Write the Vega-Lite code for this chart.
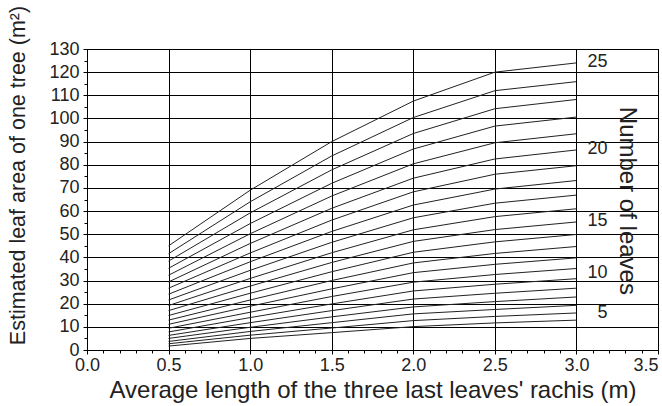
{
  "$schema": "https://vega.github.io/schema/vega-lite/v6.json",
  "width": 571,
  "height": 301,
  "autosize": {"type": "none"},
  "padding": {"left": 87, "top": 49, "right": 4, "bottom": 56},
  "background": "white",
  "config": {
    "view": {"stroke": "black", "strokeWidth": 1},
    "font": "Liberation Sans",
    "axis": {
      "domainColor": "black",
      "tickColor": "black",
      "gridColor": "black",
      "gridWidth": 1,
      "gridOpacity": 1,
      "labelColor": "#222",
      "titleColor": "#222",
      "labelFont": "Liberation Sans",
      "titleFont": "Liberation Sans",
      "titleFontWeight": "normal"
    }
  },
  "resolve": {"axis": {"x": "independent", "y": "independent"}},
  "datasets": {
    "curves": [
      {"n": 5, "x": 0.5, "y": 1.7}, {"n": 5, "x": 1.0, "y": 5.0}, {"n": 5, "x": 1.5, "y": 7.5}, {"n": 5, "x": 2.0, "y": 10.1}, {"n": 5, "x": 2.5, "y": 11.7}, {"n": 5, "x": 3.0, "y": 12.9},
      {"n": 6, "x": 0.5, "y": 2.7}, {"n": 6, "x": 1.0, "y": 6.4}, {"n": 6, "x": 1.5, "y": 9.5}, {"n": 6, "x": 2.0, "y": 12.7}, {"n": 6, "x": 2.5, "y": 14.5}, {"n": 6, "x": 3.0, "y": 16.0},
      {"n": 7, "x": 0.5, "y": 3.7}, {"n": 7, "x": 1.0, "y": 8.0}, {"n": 7, "x": 1.5, "y": 11.8}, {"n": 7, "x": 2.0, "y": 15.6}, {"n": 7, "x": 2.5, "y": 17.5}, {"n": 7, "x": 3.0, "y": 19.3},
      {"n": 8, "x": 0.5, "y": 5.0}, {"n": 8, "x": 1.0, "y": 9.8}, {"n": 8, "x": 1.5, "y": 14.3}, {"n": 8, "x": 2.0, "y": 18.6}, {"n": 8, "x": 2.5, "y": 20.9}, {"n": 8, "x": 3.0, "y": 22.9},
      {"n": 9, "x": 0.5, "y": 6.3}, {"n": 9, "x": 1.0, "y": 11.8}, {"n": 9, "x": 1.5, "y": 17.0}, {"n": 9, "x": 2.0, "y": 22.0}, {"n": 9, "x": 2.5, "y": 24.5}, {"n": 9, "x": 3.0, "y": 26.7},
      {"n": 10, "x": 0.5, "y": 7.8}, {"n": 10, "x": 1.0, "y": 14.0}, {"n": 10, "x": 1.5, "y": 19.9}, {"n": 10, "x": 2.0, "y": 25.5}, {"n": 10, "x": 2.5, "y": 28.4}, {"n": 10, "x": 3.0, "y": 30.8},
      {"n": 11, "x": 0.5, "y": 9.4}, {"n": 11, "x": 1.0, "y": 16.3}, {"n": 11, "x": 1.5, "y": 23.1}, {"n": 11, "x": 2.0, "y": 29.3}, {"n": 11, "x": 2.5, "y": 32.6}, {"n": 11, "x": 3.0, "y": 35.2},
      {"n": 12, "x": 0.5, "y": 11.1}, {"n": 12, "x": 1.0, "y": 18.9}, {"n": 12, "x": 1.5, "y": 26.4}, {"n": 12, "x": 2.0, "y": 33.4}, {"n": 12, "x": 2.5, "y": 37.0}, {"n": 12, "x": 3.0, "y": 39.8},
      {"n": 13, "x": 0.5, "y": 12.9}, {"n": 13, "x": 1.0, "y": 21.6}, {"n": 13, "x": 1.5, "y": 30.0}, {"n": 13, "x": 2.0, "y": 37.6}, {"n": 13, "x": 2.5, "y": 41.7}, {"n": 13, "x": 3.0, "y": 44.7},
      {"n": 14, "x": 0.5, "y": 14.9}, {"n": 14, "x": 1.0, "y": 24.5}, {"n": 14, "x": 1.5, "y": 33.8}, {"n": 14, "x": 2.0, "y": 42.2}, {"n": 14, "x": 2.5, "y": 46.7}, {"n": 14, "x": 3.0, "y": 49.9},
      {"n": 15, "x": 0.5, "y": 17.0}, {"n": 15, "x": 1.0, "y": 27.6}, {"n": 15, "x": 1.5, "y": 37.8}, {"n": 15, "x": 2.0, "y": 46.9}, {"n": 15, "x": 2.5, "y": 52.0}, {"n": 15, "x": 3.0, "y": 55.3},
      {"n": 16, "x": 0.5, "y": 19.2}, {"n": 16, "x": 1.0, "y": 30.9}, {"n": 16, "x": 1.5, "y": 42.0}, {"n": 16, "x": 2.0, "y": 51.9}, {"n": 16, "x": 2.5, "y": 57.6}, {"n": 16, "x": 3.0, "y": 61.0},
      {"n": 17, "x": 0.5, "y": 21.6}, {"n": 17, "x": 1.0, "y": 34.4}, {"n": 17, "x": 1.5, "y": 46.5}, {"n": 17, "x": 2.0, "y": 57.1}, {"n": 17, "x": 2.5, "y": 63.4}, {"n": 17, "x": 3.0, "y": 66.9},
      {"n": 18, "x": 0.5, "y": 24.1}, {"n": 18, "x": 1.0, "y": 38.1}, {"n": 18, "x": 1.5, "y": 51.2}, {"n": 18, "x": 2.0, "y": 62.6}, {"n": 18, "x": 2.5, "y": 69.5}, {"n": 18, "x": 3.0, "y": 73.2},
      {"n": 19, "x": 0.5, "y": 26.7}, {"n": 19, "x": 1.0, "y": 41.9}, {"n": 19, "x": 1.5, "y": 56.1}, {"n": 19, "x": 2.0, "y": 68.3}, {"n": 19, "x": 2.5, "y": 75.9}, {"n": 19, "x": 3.0, "y": 79.6},
      {"n": 20, "x": 0.5, "y": 29.4}, {"n": 20, "x": 1.0, "y": 46.0}, {"n": 20, "x": 1.5, "y": 61.2}, {"n": 20, "x": 2.0, "y": 74.2}, {"n": 20, "x": 2.5, "y": 82.5}, {"n": 20, "x": 3.0, "y": 86.4},
      {"n": 21, "x": 0.5, "y": 32.3}, {"n": 21, "x": 1.0, "y": 50.2}, {"n": 21, "x": 1.5, "y": 66.5}, {"n": 21, "x": 2.0, "y": 80.4}, {"n": 21, "x": 2.5, "y": 89.5}, {"n": 21, "x": 3.0, "y": 93.4},
      {"n": 22, "x": 0.5, "y": 35.3}, {"n": 22, "x": 1.0, "y": 54.6}, {"n": 22, "x": 1.5, "y": 72.0}, {"n": 22, "x": 2.0, "y": 86.8}, {"n": 22, "x": 2.5, "y": 96.7}, {"n": 22, "x": 3.0, "y": 100.6},
      {"n": 23, "x": 0.5, "y": 38.4}, {"n": 23, "x": 1.0, "y": 59.2}, {"n": 23, "x": 1.5, "y": 77.8}, {"n": 23, "x": 2.0, "y": 93.5}, {"n": 23, "x": 2.5, "y": 104.2}, {"n": 23, "x": 3.0, "y": 108.2},
      {"n": 24, "x": 0.5, "y": 41.6}, {"n": 24, "x": 1.0, "y": 64.0}, {"n": 24, "x": 1.5, "y": 83.8}, {"n": 24, "x": 2.0, "y": 100.4}, {"n": 24, "x": 2.5, "y": 112.0}, {"n": 24, "x": 3.0, "y": 115.9},
      {"n": 25, "x": 0.5, "y": 45.0}, {"n": 25, "x": 1.0, "y": 69.0}, {"n": 25, "x": 1.5, "y": 90.0}, {"n": 25, "x": 2.0, "y": 107.5}, {"n": 25, "x": 2.5, "y": 120.0}, {"n": 25, "x": 3.0, "y": 124.0}
    ],
    "labels": [
      {"label": "25", "x": 3.19, "y": 124.2},
      {"label": "20", "x": 3.19, "y": 86.6},
      {"label": "15", "x": 3.19, "y": 55.5},
      {"label": "10", "x": 3.19, "y": 33.3},
      {"label": "5", "x": 3.19, "y": 16.0}
    ],
    "title": [
      {"text": "Number of leaves", "x": 3.307, "y": 64.4}
    ]
  },
  "layer": [
    {
      "data": {"name": "curves"},
      "mark": {"type": "line", "color": "#222", "strokeWidth": 1, "clip": true},
      "encoding": {
        "x": {
          "field": "x",
          "type": "quantitative",
          "scale": {"domain": [0, 3.5], "nice": false, "zero": false},
          "axis": {
            "orient": "bottom",
            "values": [0, 0.5, 1.0, 1.5, 2.0, 2.5, 3.0, 3.5],
            "format": ".1f",
            "grid": true,
            "labelOverlap": false,
            "labelFlush": false,
            "labelAlign": {"condition": {"test": "datum.value >= 3.4", "value": "right"}, "value": "center"},
            "labelFontSize": 18,
            "labelPadding": 2,
            "tickSize": 4,
            "title": "Average length of the three last leaves' rachis (m)",
            "titleFontSize": 24,
            "titleY": 40,
            "titleBaseline": "middle"
          }
        },
        "y": {
          "field": "y",
          "type": "quantitative",
          "scale": {"domain": [0, 130], "nice": false},
          "axis": {
            "orient": "left",
            "values": [0, 10, 20, 30, 40, 50, 60, 70, 80, 90, 100, 110, 120, 130],
            "format": "d",
            "grid": true,
            "labelOverlap": false,
            "labelFontSize": 18,
            "labelPadding": 4,
            "tickSize": 4,
            "title": "Estimated leaf area of one tree (m²)",
            "titleFontSize": 21.5,
            "titleAngle": 270,
            "titleX": -69,
            "titleY": 126,
            "titleAlign": "center",
            "titleBaseline": "middle"
          }
        },
        "detail": {"field": "n", "type": "nominal"}
      }
    },
    {
      "data": {"name": "labels"},
      "mark": {"type": "text", "align": "right", "baseline": "middle", "fontSize": 18, "color": "#222", "font": "Liberation Sans"},
      "encoding": {
        "x": {
          "field": "x",
          "type": "quantitative",
          "axis": {
            "orient": "bottom",
            "values": [0, 0.1, 0.2, 0.3, 0.4, 0.6, 0.7, 0.8, 0.9, 1.1, 1.2, 1.3, 1.4, 1.6, 1.7, 1.8, 1.9, 2.1, 2.2, 2.3, 2.4, 2.6, 2.7, 2.8, 2.9, 3.1, 3.2, 3.3, 3.4],
            "labels": false,
            "grid": false,
            "domain": false,
            "tickSize": 3,
            "title": null
          }
        },
        "y": {
          "field": "y",
          "type": "quantitative",
          "axis": {
            "orient": "left",
            "values": [5, 15, 25, 35, 45, 55, 65, 75, 85, 95, 105, 115, 125],
            "labels": false,
            "grid": false,
            "domain": false,
            "tickSize": 3,
            "title": null
          }
        },
        "text": {"field": "label"}
      }
    },
    {
      "data": {"name": "title"},
      "mark": {"type": "text", "align": "center", "baseline": "middle", "angle": 90, "fontSize": 24, "color": "#222", "font": "Liberation Sans"},
      "encoding": {
        "x": {"field": "x", "type": "quantitative", "axis": null},
        "y": {"field": "y", "type": "quantitative", "axis": null},
        "text": {"field": "text"}
      }
    }
  ]
}
